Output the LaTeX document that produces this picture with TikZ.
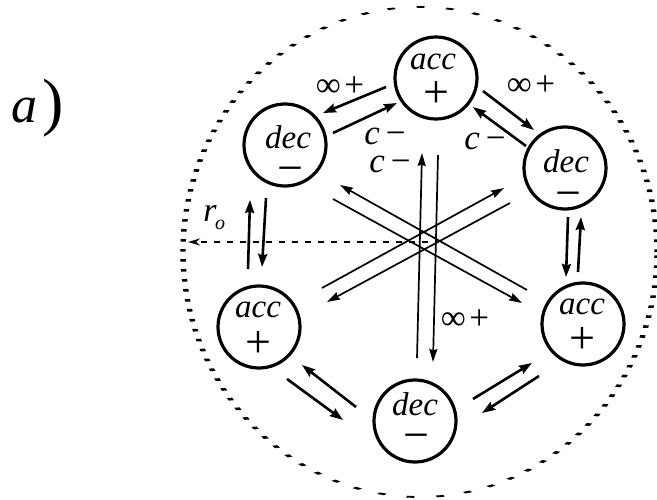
\documentclass[tikz,border=0pt]{standalone}
\usepackage{fontspec}
\setmainfont{Liberation Serif}
\usetikzlibrary{arrows.meta}
\begin{document}
\begin{tikzpicture}[x=1pt,y=-1pt,
  st/.style={circle,draw,line width=3.2pt,minimum size=82pt,inner sep=0pt},
  word/.style={anchor=base,inner sep=0pt,font=\fontsize{33}{33}\selectfont\itshape},
  sign/.style={anchor=base,inner sep=0pt,font=\fontsize{46}{46}\selectfont},
  lab/.style={inner sep=0pt,font=\fontsize{35}{35}\selectfont},
  arr/.style={line width=2.6pt,-{Stealth[length=13pt,width=9pt,inset=1.5pt]}},
  xarr/.style={line width=1.7pt,-{Stealth[length=13pt,width=8pt,inset=1.5pt]}},
]
\useasboundingbox (0,0) rectangle (657,500);

% outer boundary
\begin{scope}[transform canvas={xscale=3}]
\draw[line width=1.8pt, dash pattern=on 2.6pt off 7.4pt] (140,252) ellipse [x radius=79pt, y radius=245pt];
\end{scope}

% states
\node[st] (tA) at (436,78) {};
\node[word] (tAw) at (433,70) {acc};
\node[sign] (tAs) at (436,108) {+};

\node[st] (tD) at (285,145) {};
\node[word] (tDw) at (288,149) {dec};
\node[sign] (tDs) at (290,184) {−};

\node[st] (rD) at (565,168) {};
\node[word] (rDw) at (566,173) {dec};
\node[sign] (rDs) at (568,209) {−};

\node[st] (lA) at (259,327) {};
\node[word] (lAw) at (258,318) {acc};
\node[sign] (lAs) at (258,357) {+};

\node[st] (bD) at (415,421) {};
\node[word] (bDw) at (415,415) {dec};
\node[sign] (bDs) at (416,450) {−};

\node[st] (rA) at (583,324) {};
\node[word] (rAw) at (582,315) {acc};
\node[sign] (rAs) at (582,353) {+};

% labels
\node[lab] (l1) at (340,87) {∞\hspace{0.1em}+};
\node[lab] (l2) at (385,136) {\textit{c}\,−};
\node[lab] (l3) at (531,86) {∞\hspace{0.1em}+};
\node[lab] (l4) at (485,141) {\textit{c}\,−};
\node[lab] (l5) at (390,164) {\textit{c}\,−};
\node[lab] (l6) at (465,320) {∞\hspace{0.1em}+};

\node[anchor=base,inner sep=0pt,font=\fontsize{34}{34}\selectfont\itshape] (r) at (210,222) {r};
\node[anchor=base,inner sep=0pt,font=\fontsize{20}{20}\selectfont\itshape] (o) at (220,230) {o};
\node[anchor=base west,inner sep=0pt,font=\fontsize{52}{52}\selectfont\itshape] (a) at (11,123) {a};
\node[anchor=base west,inner sep=0pt,font=\fontsize{64}{64}\selectfont] (par) at (42,124) {)};

% endpoints
\coordinate (a1s) at (386,87);  \coordinate (a1e) at (323,113);
\coordinate (a2s) at (333,133); \coordinate (a2e) at (397,103);
\coordinate (b1s) at (483,91);  \coordinate (b1e) at (534,130);
\coordinate (b2s) at (526,146); \coordinate (b2e) at (473,107);
\coordinate (c1s) at (568,217); \coordinate (c1e) at (566,277);
\coordinate (c2s) at (578,272); \coordinate (c2e) at (581,217);
\coordinate (d1s) at (248,269); \coordinate (d1e) at (250,200);
\coordinate (d2s) at (266,198); \coordinate (d2e) at (262,267);
\coordinate (e1s) at (287,379); \coordinate (e1e) at (343,420);
\coordinate (e2s) at (356,407); \coordinate (e2e) at (302,365);
\coordinate (f1s) at (473,399); \coordinate (f1e) at (532,363);
\coordinate (f2s) at (539,376); \coordinate (f2e) at (482,413);
\coordinate (v1s) at (417,358); \coordinate (v1e) at (422,153);
\coordinate (v2s) at (438,155); \coordinate (v2e) at (433,362);
\coordinate (g1s) at (527,290); \coordinate (g1e) at (340,185);
\coordinate (g2s) at (333,199); \coordinate (g2e) at (522,303);
\coordinate (h1s) at (322,288); \coordinate (h1e) at (504,188);
\coordinate (h2s) at (510,203); \coordinate (h2e) at (327,302);
\coordinate (ros) at (428,242); \coordinate (roe) at (188,242);

% short arrows
\draw[arr] (a1s) -- (a1e);
\draw[arr] (a2s) -- (a2e);
\draw[arr] (b1s) -- (b1e);
\draw[arr] (b2s) -- (b2e);
\draw[arr] (c1s) -- (c1e);
\draw[arr] (c2s) -- (c2e);
\draw[arr] (d1s) -- (d1e);
\draw[arr] (d2s) -- (d2e);
\draw[arr] (e1s) -- (e1e);
\draw[arr] (e2s) -- (e2e);
\draw[arr] (f1s) -- (f1e);
\draw[arr] (f2s) -- (f2e);
% long arrows
\draw[xarr] (v1s) -- (v1e);
\draw[xarr] (v2s) -- (v2e);
\draw[xarr] (g1s) -- (g1e);
\draw[xarr] (g2s) -- (g2e);
\draw[xarr] (h1s) -- (h1e);
\draw[xarr] (h2s) -- (h2e);
% radius
\draw[line width=2pt,dash pattern=on 6pt off 7pt,-{Stealth[length=12pt,width=7pt]}] (ros) -- (roe);
\end{tikzpicture}
\end{document}
